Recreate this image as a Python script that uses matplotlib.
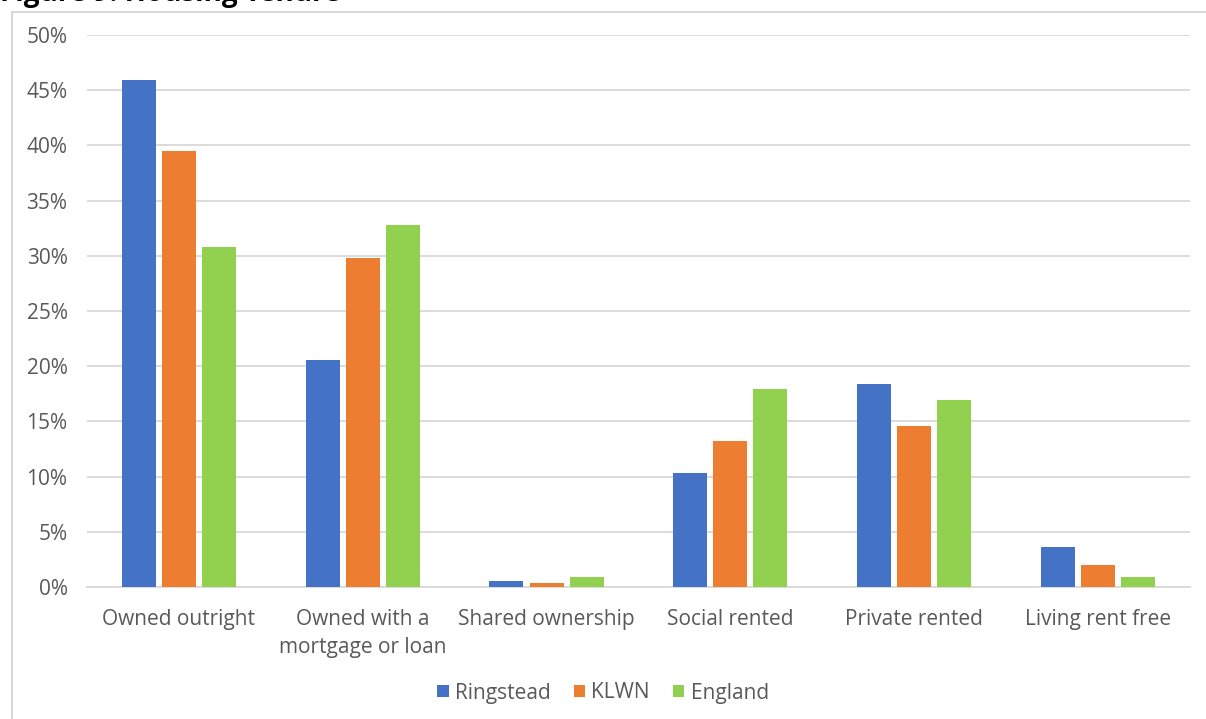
import numpy as np
import matplotlib.pyplot as plt
from matplotlib.lines import Line2D

# Figure 9: Housing Tenure
categories = ['Owned outright', 'Owned with a\nmortgage or loan', 'Shared ownership',
              'Social rented', 'Private rented', 'Living rent free']
ringstead = [45.9, 20.6, 0.55, 10.3, 18.4, 3.6]
klwn = [39.5, 29.8, 0.4, 13.2, 14.6, 2.0]
england = [30.8, 32.8, 0.9, 17.9, 16.9, 0.9]
series = ['Ringstead', 'KLWN', 'England']
colors = ['#4472C4', '#ED7D31', '#92D050']

plt.rcParams['font.family'] = ['Open Sans', 'DejaVu Sans']

fig = plt.figure(figsize=(12.06, 7.19), dpi=100)
ax = fig.add_axes([0.0721, 0.1836, 0.9146, 0.7677])

x = np.arange(len(categories))
w = 0.185
step = 0.218
for i, (vals, name) in enumerate(zip([ringstead, klwn, england], series)):
    ax.bar(x + (i - 1) * step, vals, w, color=colors[i], label=name, zorder=3)

ax.set_xlim(-0.5, len(categories) - 0.5)
ax.set_ylim(0, 50)
ax.set_yticks(range(0, 51, 5))
ax.set_yticklabels([f'{v}%' for v in range(0, 51, 5)])
ax.set_xticks(x)
ax.set_xticklabels(categories, linespacing=1.45)
ax.grid(axis='y', color='#d9d9d9', lw=1.3, zorder=0)
for s in ['top', 'right', 'left']:
    ax.spines[s].set_visible(False)
ax.spines['bottom'].set_color('#d9d9d9')
ax.spines['bottom'].set_linewidth(1.3)
ax.tick_params(axis='both', length=0, labelsize=15, labelcolor='#595959')
ax.tick_params(axis='x', pad=16)
ax.tick_params(axis='y', pad=14)

leg = ax.legend(loc='center', bbox_to_anchor=(0.5, 1 - 693 / 719), bbox_transform=fig.transFigure,
                ncol=3, frameon=False, fontsize=15, handlelength=0.55, handleheight=0.55,
                handletextpad=0.3, columnspacing=1.1)
for t in leg.get_texts():
    t.set_color('#595959')

# chart frame and cut-off title
fig.add_artist(Line2D([12 / 1206, 12 / 1206], [0, 1 - 12 / 719], color='#d0d0d0', lw=1.2))
fig.add_artist(Line2D([12 / 1206, 1], [1 - 12 / 719, 1 - 12 / 719], color='#d0d0d0', lw=1.2))
fig.text(0.0, 1 - 8 / 719, 'Figure 9: Housing Tenure', fontsize=20, fontweight='bold',
         color='black', va='bottom', ha='left')

fig.savefig('out.png', dpi=100)
